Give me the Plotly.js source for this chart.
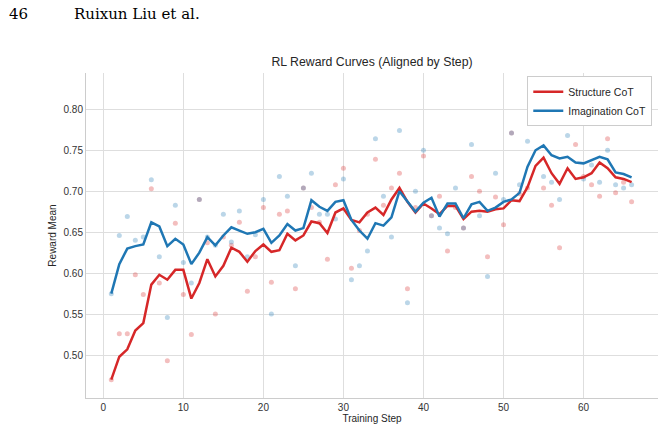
<!DOCTYPE html>
<html>
<head>
<meta charset="utf-8">
<script src="https://cdn.plot.ly/plotly-3.0.1.min.js"></script>
<style>
  html, body { margin: 0; padding: 0; background: #ffffff; }
  #chart { width: 664px; height: 428px; }
</style>
</head>
<body>
<div id="chart"></div>
<script>
// Training steps
const steps = [1,2,3,4,5,6,7,8,9,10,11,12,13,14,15,16,17,18,19,20,21,22,23,24,25,26,27,28,29,30,
  31,32,33,34,35,36,37,38,39,40,41,42,43,44,45,46,47,48,49,50,51,52,53,54,55,56,57,58,59,60,
  61,62,63,64,65,66];

// Raw per-step reward means
const structureRaw = [0.470,0.526,0.526,0.598,0.574,0.703,0.588,0.493,0.661,0.574,
  0.525,0.690,0.637,0.550,0.644,0.634,0.662,0.578,0.620,0.680,
  0.589,0.672,0.676,0.581,0.704,0.680,0.662,0.617,0.708,0.728,
  0.606,0.652,0.672,0.739,0.683,0.704,0.722,0.581,0.680,0.743,
  0.670,0.694,0.627,0.680,0.655,0.718,0.700,0.620,0.693,0.659,
  0.771,0.697,0.704,0.827,0.704,0.683,0.631,0.796,0.757,0.718,
  0.708,0.694,0.764,0.698,0.711,0.687];

const imaginationRaw = [0.575,0.646,0.669,0.640,0.644,0.714,0.620,0.546,0.683,0.613,
  0.588,0.690,0.644,0.634,0.672,0.638,0.676,0.620,0.647,0.690,
  0.550,0.718,0.694,0.609,0.704,0.722,0.672,0.672,0.666,0.715,
  0.592,0.609,0.627,0.764,0.694,0.644,0.774,0.564,0.700,0.750,
  0.670,0.655,0.648,0.704,0.655,0.757,0.670,0.596,0.722,0.690,
  0.771,0.708,0.761,0.820,0.718,0.711,0.690,0.768,0.785,0.715,
  0.732,0.711,0.750,0.708,0.704,0.708];

// Smoothed curves
const structureSmooth = [0.470,0.498,0.507,0.530,0.539,0.586,0.598,0.592,0.604,0.604,
  0.569,0.588,0.617,0.596,0.609,0.631,0.626,0.614,0.627,0.635,
  0.626,0.628,0.648,0.640,0.646,0.663,0.661,0.649,0.674,0.679,
  0.665,0.662,0.674,0.680,0.671,0.690,0.704,0.687,0.674,0.685,
  0.679,0.672,0.682,0.682,0.666,0.675,0.676,0.675,0.678,0.679,
  0.689,0.688,0.705,0.731,0.741,0.722,0.709,0.728,0.715,0.717,
  0.722,0.735,0.728,0.717,0.715,0.711];

const imaginationSmooth = [0.575,0.611,0.630,0.633,0.635,0.662,0.657,0.633,0.642,0.635,
  0.611,0.625,0.644,0.634,0.646,0.656,0.652,0.648,0.650,0.654,
  0.637,0.646,0.660,0.652,0.655,0.689,0.681,0.676,0.687,0.689,
  0.665,0.652,0.642,0.661,0.658,0.668,0.700,0.688,0.675,0.686,
  0.692,0.669,0.685,0.685,0.667,0.684,0.687,0.676,0.680,0.687,
  0.690,0.698,0.730,0.750,0.756,0.744,0.740,0.742,0.735,0.734,
  0.738,0.742,0.739,0.723,0.721,0.717];

const seriesNames = ['Structure CoT', 'Imagination CoT'];
const RED = '#d62728';
const BLUE = '#1f77b4';
const FONT = 'Liberation Sans, Arial, Helvetica, sans-serif';
const SERIF = 'DejaVu Serif, Liberation Serif, serif';

const traces = [
  { x: steps, y: structureRaw, type: 'scatter', mode: 'markers', showlegend: false,
    marker: { color: RED, size: 5, opacity: 0.3 }, hoverinfo: 'skip' },
  { x: steps, y: imaginationRaw, type: 'scatter', mode: 'markers', showlegend: false,
    marker: { color: BLUE, size: 5, opacity: 0.3 }, hoverinfo: 'skip' },
  { x: steps, y: structureSmooth, type: 'scatter', mode: 'lines', name: seriesNames[0],
    line: { color: RED, width: 2.5 } },
  { x: steps, y: imaginationSmooth, type: 'scatter', mode: 'lines', name: seriesNames[1],
    line: { color: BLUE, width: 2.5 } }
];

const layout = {
  width: 664, height: 428,
  margin: { l: 86, r: 6, t: 73, b: 30 },
  paper_bgcolor: '#ffffff', plot_bgcolor: '#ffffff',
  font: { family: FONT, size: 10, color: '#333333' },
  title: { text: 'RL Reward Curves (Aligned by Step)', font: { family: FONT, size: 12.3, color: '#262626' },
    x: 0.5, xref: 'paper', y: 1 - 62 / 428, yref: 'container', yanchor: 'middle' },
  xaxis: {
    range: [-2.16, 69.3], tickvals: [0,10,20,30,40,50,60], ticks: '',
    showgrid: true, gridcolor: '#dedede', gridwidth: 1, zeroline: false,
    showline: true, linecolor: '#cccccc', linewidth: 1,
    tickfont: { size: 10, color: '#333333' },
    title: { text: 'Training Step', font: { size: 10, color: '#262626' }, standoff: 2 },
    automargin: false
  },
  yaxis: {
    range: [0.4476, 0.8443], tickvals: [0.50,0.55,0.60,0.65,0.70,0.75,0.80], tickformat: '.2f', ticks: '',
    showgrid: true, gridcolor: '#dedede', gridwidth: 1, zeroline: false,
    showline: true, linecolor: '#cccccc', linewidth: 1,
    tickfont: { size: 10, color: '#333333' },
    title: { text: 'Reward Mean', font: { size: 10, color: '#262626' }, standoff: 5 },
    automargin: false
  },
  legend: {
    x: 0.99, xanchor: 'right', y: 0.99, yanchor: 'top',
    bgcolor: '#ffffff', bordercolor: '#cccccc', borderwidth: 1,
    font: { size: 10.5, color: '#262626' }, tracegroupgap: 0, itemwidth: 30
  },
  annotations: [
    { text: '46', xref: 'paper', yref: 'paper', x: (7 - 86) / 572, y: 1 + (73 - 14) / 325, xanchor: 'left', yanchor: 'middle',
      showarrow: false, font: { family: SERIF, size: 15, color: '#000000' } },
    { text: 'Ruixun Liu et al.', xref: 'paper', yref: 'paper', x: (72 - 86) / 572, y: 1 + (73 - 14) / 325, xanchor: 'left', yanchor: 'middle',
      showarrow: false, font: { family: SERIF, size: 15, color: '#000000' } }
  ]
};

Plotly.newPlot('chart', traces, layout, { displayModeBar: false, staticPlot: true });
</script>
</body>
</html>
